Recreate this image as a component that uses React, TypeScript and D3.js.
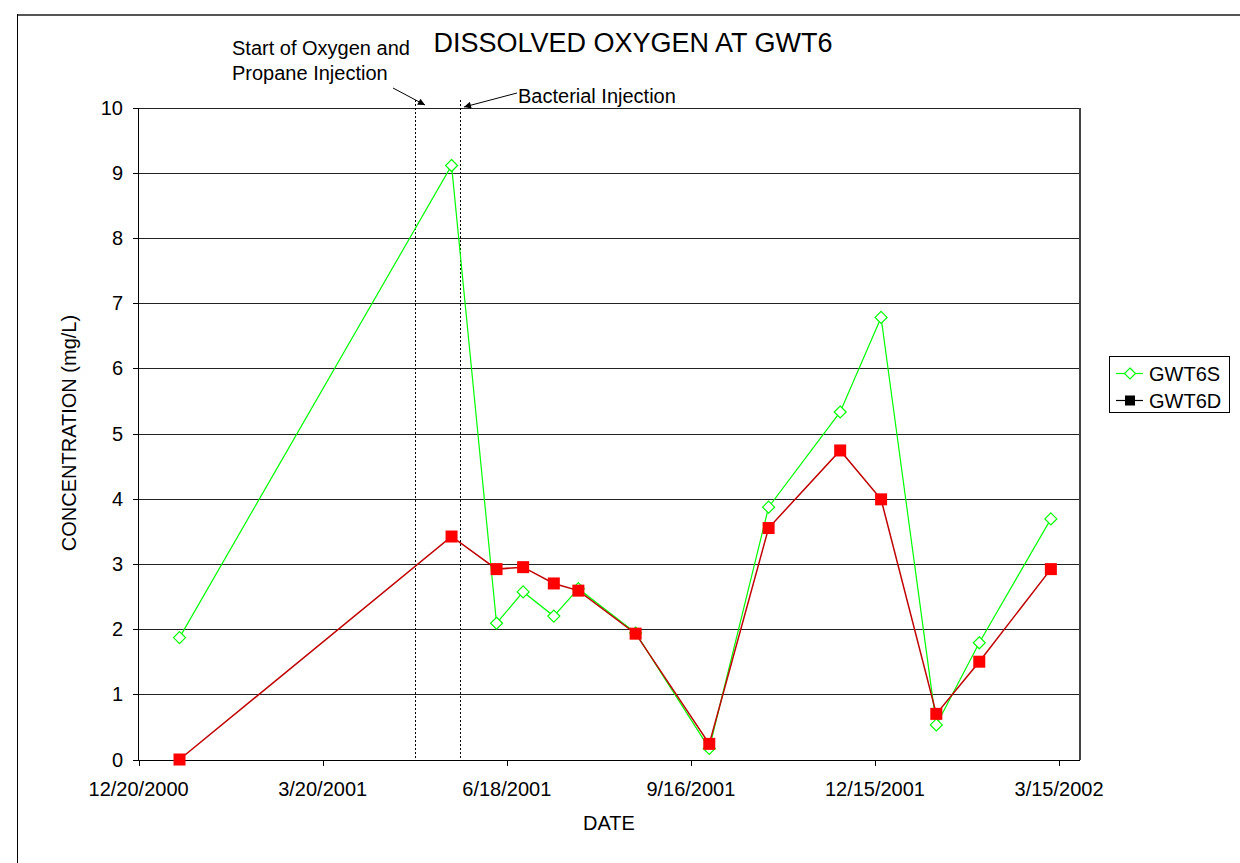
import React from "react";
import * as d3 from "d3";

// ---- data ----
const sampleDates = [
  "2001-01-09", "2001-05-22", "2001-06-13", "2001-06-26", "2001-07-11",
  "2001-07-23", "2001-08-20", "2001-09-25", "2001-10-24", "2001-11-28",
  "2001-12-18", "2002-01-14", "2002-02-04", "2002-03-11",
];
const gwt6s = [1.87, 9.11, 2.09, 2.57, 2.2, 2.62, 1.94, 0.17, 3.87, 5.33, 6.78, 0.53, 1.79, 3.69];
const gwt6d = [0.0, 3.42, 2.92, 2.95, 2.7, 2.59, 1.93, 0.24, 3.55, 4.74, 3.99, 0.7, 1.5, 2.92];
const xTickDates = ["2000-12-20", "2001-03-20", "2001-06-18", "2001-09-16", "2001-12-15", "2002-03-15"];
const xDomain = ["2000-12-20", "2002-03-25"];
const yTicks = [0, 1, 2, 3, 4, 5, 6, 7, 8, 9, 10];
const eventDates = ["2001-05-04", "2001-05-26"];
const seriesNames = ["GWT6S", "GWT6D"];

const parse = d3.timeParse("%Y-%m-%d");
const fmt = (d: Date) => `${d.getMonth() + 1}/${d.getDate()}/${d.getFullYear()}`;

const FONT = "'Liberation Sans', Arial, sans-serif";

export default function App() {
  const left = 138.6, right = 1079.5, top = 107.5, bottom = 759.5;
  const x = d3.scaleTime().domain(xDomain.map((s) => parse(s) as Date)).range([left, right]);
  const y = d3.scaleLinear().domain([0, 10]).range([bottom, top]);

  const ptsS = sampleDates.map((s, i) => [x(parse(s) as Date), y(gwt6s[i])] as [number, number]);
  const ptsD = sampleDates.map((s, i) => [x(parse(s) as Date), y(gwt6d[i])] as [number, number]);
  const line = d3.line();

  const diamond = (cx: number, cy: number, r = 6) =>
    `M${cx},${cy - r}L${cx + r},${cy}L${cx},${cy + r}L${cx - r},${cy}Z`;

  const green = "#00FF00";
  const redLine = "#C00000";
  const redMark = "#FF0000";
  const axL = 138.5;
  const axR = 1080;

  return (
    <svg width={1240} height={863} style={{ position: "absolute", left: 0, top: 0, background: "#fff" }}
      fontFamily={FONT}>
      <defs>
        <marker id="ah" viewBox="0 0 10 10" refX="10" refY="5" markerWidth="9" markerHeight="7"
          markerUnits="userSpaceOnUse" orient="auto">
          <path d="M0,0L10,5L0,10Z" fill="#000" />
        </marker>
      </defs>
      <rect x={0} y={0} width={1240} height={863} fill="#fff" />
      {/* outer chart border */}
      <line x1={17} y1={15} x2={1240} y2={15} stroke="#555" strokeWidth={2} />
      <line x1={17.5} y1={14} x2={17.5} y2={863} stroke="#000" strokeWidth={1} />

      {/* gridlines */}
      {yTicks.map((t) => (
        <line key={"g" + t} x1={axL} x2={axR} y1={Math.round(y(t)) + 0.5} y2={Math.round(y(t)) + 0.5}
          stroke={t === 0 ? "#000" : "#222"} strokeWidth={1} shapeRendering="crispEdges" />
      ))}
      {/* plot border right */}
      <line x1={axR} x2={axR} y1={top} y2={bottom} stroke="#444" strokeWidth={2} shapeRendering="crispEdges" />
      {/* y axis */}
      <line x1={axL} x2={axL} y1={top} y2={bottom} stroke="#000" strokeWidth={1} shapeRendering="crispEdges" />
      {yTicks.map((t) => (
        <g key={"yt" + t}>
          <line x1={axL - 6} x2={axL} y1={Math.round(y(t)) + 0.5} y2={Math.round(y(t)) + 0.5} stroke="#000"
            shapeRendering="crispEdges" />
          <text x={123} y={y(t) + 7} textAnchor="end" fontSize={20} fill="#000">{t}</text>
        </g>
      ))}
      {/* x axis */}
      {xTickDates.map((s) => {
        const d = parse(s) as Date;
        const xp = Math.round(x(d)) + 0.5;
        return (
          <g key={s}>
            <line x1={xp} x2={xp} y1={bottom} y2={bottom + 6} stroke="#000" shapeRendering="crispEdges" />
            <text x={x(d)} y={796} textAnchor="middle" fontSize={20} fill="#000">{fmt(d)}</text>
          </g>
        );
      })}

      {/* event lines */}
      {eventDates.map((s) => {
        const xp = Math.round(x(parse(s) as Date)) + 0.5;
        return (
          <line key={s} x1={xp} x2={xp} y1={100} y2={bottom} stroke="#000" strokeWidth={1}
            strokeDasharray="2,2" shapeRendering="crispEdges" />
        );
      })}

      {/* series S */}
      <path d={line(ptsS) || ""} fill="none" stroke={green} strokeWidth={1.2} />
      {ptsS.map(([cx, cy], i) => (
        <path key={"s" + i} d={diamond(cx, cy)} fill="#fff" stroke={green} strokeWidth={1.2} />
      ))}
      {/* series D */}
      <path d={line(ptsD) || ""} fill="none" stroke={redLine} strokeWidth={1.5} />
      {ptsD.map(([cx, cy], i) => (
        <rect key={"d" + i} x={cx - 6} y={cy - 6} width={12} height={12} fill={redMark} />
      ))}

      {/* titles */}
      <text x={633} y={52} textAnchor="middle" fontSize={27} fill="#000">DISSOLVED OXYGEN AT GWT6</text>
      <text x={609} y={830} textAnchor="middle" fontSize={20} fill="#000">DATE</text>
      <text transform="translate(76,433) rotate(-90)" textAnchor="middle" fontSize={20} fill="#000">
        CONCENTRATION (mg/L)
      </text>

      {/* annotations */}
      <text x={232} y={55} fontSize={20} fill="#000">Start of Oxygen and</text>
      <text x={232} y={80} fontSize={20} fill="#000">Propane Injection</text>
      <line x1={393} y1={88} x2={425} y2={105} stroke="#000" strokeWidth={1} markerEnd="url(#ah)" />
      <text x={518} y={103} fontSize={20} fill="#000">Bacterial Injection</text>
      <line x1={517} y1={93} x2={464} y2={107} stroke="#000" strokeWidth={1} markerEnd="url(#ah)" />

      {/* legend */}
      <rect x={1109.5} y={356.5} width={120} height={56} fill="#fff" stroke="#000" strokeWidth={1} />
      <line x1={1116} x2={1143} y1={373.5} y2={373.5} stroke={green} strokeWidth={1.2} />
      <path d={diamond(1130, 373.5, 5.5)} fill="#fff" stroke={green} strokeWidth={1.2} />
      <text x={1149} y={381} fontSize={20} fill="#000">{seriesNames[0]}</text>
      <line x1={1116} x2={1143} y1={400.5} y2={400.5} stroke="#000" strokeWidth={1.2} />
      <rect x={1125} y={395.5} width={10} height={10} fill="#000" />
      <text x={1149} y={408} fontSize={20} fill="#000">{seriesNames[1]}</text>
    </svg>
  );
}
